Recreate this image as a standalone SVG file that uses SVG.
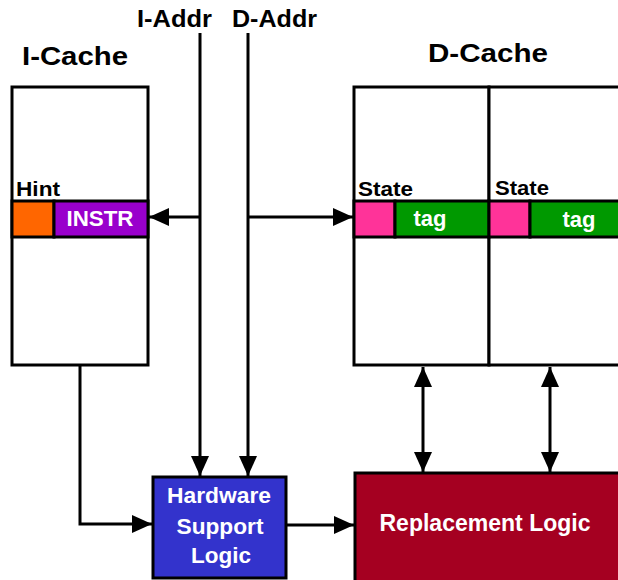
<svg xmlns="http://www.w3.org/2000/svg" width="618" height="580" viewBox="0 0 618 580">
<style>
text{font-family:"Liberation Sans",Arial,sans-serif;font-weight:bold}
.box{fill:#fff;stroke:#000;stroke-width:3}
.cell{stroke:#000;stroke-width:3}
.lbl{fill:#000}
.wt{fill:#fff}
.ln{fill:none;stroke:#000;stroke-width:3}
</style>
<defs>
<marker id="ah" viewBox="0 0 20 18" markerWidth="20" markerHeight="18" markerUnits="userSpaceOnUse" refX="20" refY="9" orient="auto-start-reverse">
<path d="M0,0 L20,9 L0,18 Z" fill="#000"/>
</marker>
</defs>
<rect width="618" height="580" fill="#fff"/>
<text class="lbl" x="137" y="27" font-size="23" textLength="75" lengthAdjust="spacingAndGlyphs">I-Addr</text>
<text class="lbl" x="232" y="27" font-size="23" textLength="85" lengthAdjust="spacingAndGlyphs">D-Addr</text>
<g id="icache">
<text class="lbl" x="22" y="65" font-size="26" textLength="106" lengthAdjust="spacingAndGlyphs">I-Cache</text>
<rect class="box" x="12" y="87" width="136" height="278"/>
<text class="lbl" x="16" y="196" font-size="20" textLength="44" lengthAdjust="spacingAndGlyphs">Hint</text>
<rect class="cell" x="12" y="201" width="42" height="36" fill="#FF6600"/>
<rect class="cell" x="54" y="201" width="94" height="36" fill="#9900CC"/>
<text class="wt" x="100" y="226" font-size="22" text-anchor="middle" textLength="67" lengthAdjust="spacingAndGlyphs">INSTR</text>
</g>
<g id="dcache">
<text class="lbl" x="428" y="62" font-size="26" textLength="120" lengthAdjust="spacingAndGlyphs">D-Cache</text>
<rect class="box" x="354" y="87" width="135" height="278"/>
<rect class="box" x="489" y="87" width="140" height="278"/>
<text class="lbl" x="358" y="196" font-size="20" textLength="55" lengthAdjust="spacingAndGlyphs">State</text>
<text class="lbl" x="495" y="195" font-size="20" textLength="54" lengthAdjust="spacingAndGlyphs">State</text>
<rect class="cell" x="354" y="201" width="41" height="36" fill="#FF3399"/>
<rect class="cell" x="395" y="201" width="94" height="36" fill="#009900"/>
<rect class="cell" x="489" y="201" width="41" height="36" fill="#FF3399"/>
<rect class="cell" x="530" y="201" width="100" height="36" fill="#009900"/>
<text class="wt" x="430" y="226" font-size="22" text-anchor="middle">tag</text>
<text class="wt" x="579" y="227" font-size="22" text-anchor="middle">tag</text>
</g>
<g id="hsl">
<rect x="153" y="477" width="133" height="101" fill="#3333CC" stroke="#000" stroke-width="3"/>
<text class="wt" x="219" y="503" font-size="22" text-anchor="middle" textLength="104" lengthAdjust="spacingAndGlyphs">Hardware</text>
<text class="wt" x="220" y="534" font-size="22" text-anchor="middle" textLength="87" lengthAdjust="spacingAndGlyphs">Support</text>
<text class="wt" x="221" y="563" font-size="22" text-anchor="middle" textLength="60" lengthAdjust="spacingAndGlyphs">Logic</text>
</g>
<g id="repl">
<rect x="355" y="473" width="275" height="112" fill="#A50021" stroke="#000" stroke-width="3"/>
<text class="wt" x="485" y="531" font-size="23" text-anchor="middle" textLength="211" lengthAdjust="spacingAndGlyphs">Replacement Logic</text>
</g>
<g id="connectors">
<line class="ln" x1="200" y1="33" x2="200" y2="476" marker-end="url(#ah)"/>
<line class="ln" x1="248" y1="33" x2="248" y2="476" marker-end="url(#ah)"/>
<line class="ln" x1="200" y1="217" x2="149" y2="217" marker-end="url(#ah)"/>
<line class="ln" x1="248" y1="217" x2="353" y2="217" marker-end="url(#ah)"/>
<polyline class="ln" points="80,364 80,524 152,524" marker-end="url(#ah)"/>
<line class="ln" x1="286" y1="525" x2="354" y2="525" marker-end="url(#ah)"/>
<line class="ln" x1="423" y1="367" x2="423" y2="472" marker-start="url(#ah)" marker-end="url(#ah)"/>
<line class="ln" x1="550" y1="367" x2="550" y2="472" marker-start="url(#ah)" marker-end="url(#ah)"/>
</g>
</svg>
